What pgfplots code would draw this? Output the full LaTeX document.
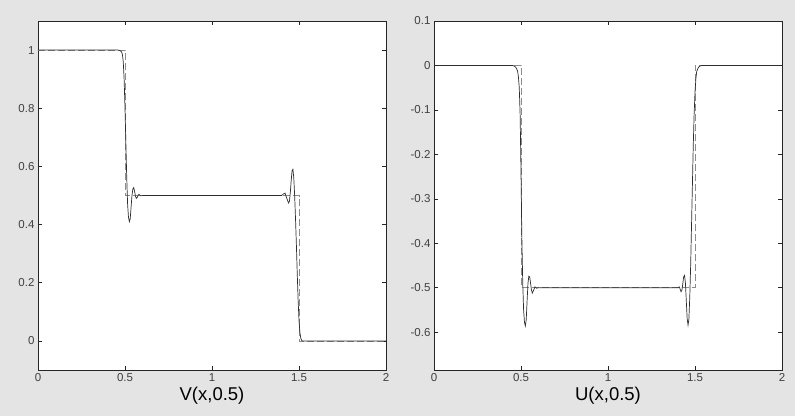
\documentclass[border=0pt]{standalone}
\usepackage{pgfplots}
\pgfplotsset{compat=1.18}
\usepackage{fontspec}
\setmainfont{Liberation Sans}
\definecolor{figbg}{HTML}{E4E4E4}
\definecolor{numline}{HTML}{2E2E2E}
\definecolor{exline}{HTML}{8C8C8C}

\pgfplotsset{mlab/.style={
  scale only axis, width=348pt, height=349pt,
  axis background/.style={fill=white},
  xmin=0, xmax=2, xtick={0,0.5,1,1.5,2},
  xtick pos=both, ytick pos=both, tick align=inside,
  major tick length=4pt,
  axis line style={black!85, line width=0.6pt},
  every tick/.style={black!85, line width=0.6pt},
  tick label style={font=\fontsize{11.5}{12}\selectfont, text=black!75},
  /pgf/number format/assume math mode=true,
  xlabel style={font=\fontsize{18.5}{20}\selectfont, text=black, yshift=1pt},
}}

\begin{document}
\begin{tikzpicture}
\fill[figbg] (0,0) rectangle (795pt,416pt);

\begin{axis}[mlab, at={(38pt,46pt)}, anchor=south west,
  ymin=-0.1, ymax=1.1, ytick={0,0.2,0.4,0.6,0.8,1},
  xlabel={V(x,0.5)}]
% exact solution
\addplot[exline, line width=0.8pt, dash pattern=on 7pt off 3pt] coordinates {
(0,1) (0.5,1) (0.5,0.5) (1.5,0.5) (1.5,0) (2,0)};
% numerical solution
\addplot[numline, line width=0.7pt] coordinates {
(0,1) (0.46,1) (0.47,0.999) (0.48,0.994) (0.485,0.985) (0.49,0.96) (0.495,0.9)
(0.50,0.8) (0.505,0.68) (0.51,0.56) (0.515,0.47) (0.52,0.425) (0.525,0.41)
(0.53,0.42) (0.535,0.46) (0.54,0.50) (0.545,0.522) (0.55,0.527) (0.555,0.515)
(0.56,0.498) (0.565,0.49) (0.57,0.493) (0.575,0.5) (0.58,0.504) (0.59,0.499)
(0.6,0.5) (1.40,0.5) (1.41,0.505) (1.42,0.508) (1.43,0.49) (1.44,0.474)
(1.445,0.48) (1.45,0.51) (1.455,0.55) (1.46,0.585) (1.465,0.59) (1.47,0.56)
(1.475,0.5) (1.48,0.42) (1.485,0.33) (1.49,0.23) (1.495,0.14) (1.50,0.07)
(1.505,0.03) (1.51,0.01) (1.515,0.002) (1.52,0) (2,0)};
\end{axis}

\begin{axis}[mlab, at={(434pt,46pt)}, anchor=south west,
  ymin=-0.685, ymax=0.1, ytick={-0.6,-0.5,-0.4,-0.3,-0.2,-0.1,0,0.1},
  xlabel={U(x,0.5)}]
% exact solution
\addplot[exline, line width=0.8pt, dash pattern=on 7pt off 3pt] coordinates {
(0,0) (0.5,0) (0.5,-0.5) (1.5,-0.5) (1.5,0) (2,0)};
% numerical solution
\addplot[numline, line width=0.7pt] coordinates {
(0,0) (0.45,0) (0.46,-0.001) (0.47,-0.004) (0.48,-0.012) (0.485,-0.025)
(0.49,-0.05) (0.495,-0.11) (0.50,-0.24) (0.505,-0.39) (0.51,-0.49)
(0.515,-0.55) (0.52,-0.578) (0.525,-0.586) (0.53,-0.572) (0.535,-0.53)
(0.54,-0.49) (0.545,-0.474) (0.55,-0.476) (0.555,-0.49) (0.56,-0.505)
(0.565,-0.512) (0.57,-0.508) (0.58,-0.498) (0.59,-0.501) (0.6,-0.5)
(1.40,-0.5) (1.41,-0.498) (1.42,-0.509) (1.425,-0.505) (1.43,-0.49)
(1.435,-0.475) (1.44,-0.472) (1.445,-0.49) (1.45,-0.53) (1.455,-0.57)
(1.46,-0.584) (1.465,-0.57) (1.47,-0.52) (1.475,-0.45) (1.48,-0.36)
(1.485,-0.27) (1.49,-0.18) (1.495,-0.11) (1.50,-0.06) (1.505,-0.03)
(1.51,-0.013) (1.52,-0.004) (1.53,-0.001) (1.54,0) (2,0)};
\end{axis}
\end{tikzpicture}
\end{document}
